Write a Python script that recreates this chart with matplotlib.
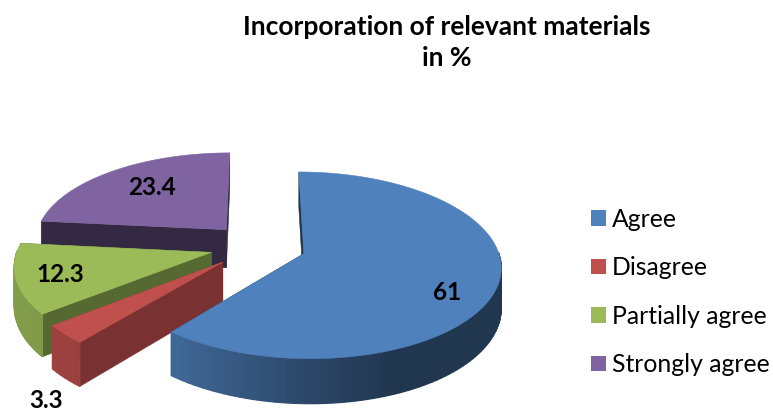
import numpy as np
import matplotlib
matplotlib.use('Agg')
import matplotlib.pyplot as plt
from matplotlib.patches import Polygon, Patch
from matplotlib.colors import to_rgb

# Dati del grafico
categories = ['Agree', 'Disagree', 'Partially agree', 'Strongly agree']
values = [61, 3.3, 12.3, 23.4]
value_labels = ['61', '3.3', '12.3', '23.4']

# Stile
colors = ['#4f81bd', '#c0504d', '#9bbb59', '#8064a2']
cut_dark = [0.40, 0.63, 0.56, 0.41]
label_pos = [(447, 293), (46, 400), (60, 275), (152, 187)]

# Parametri della vista 3D (pixel)
CX, CY = 258, 246
A, K = 193, 90
P = 0.123
EXPLODE = 0.25
DEPTH = 39
START = 0


def project(x, y, z=0):
    w = 1 - P * y
    return CX + A * x / w, CY + K * y / w + z / w


def shade(u):
    return np.interp(u, [-1, -0.6, 0, 0.4, 1], [0.85, 0.8, 0.55, 0.42, 0.42])


def darker(col, f):
    return tuple(c * f for c in to_rgb(col))


def add_poly(ax, pts, col, z, lw=0.4):
    ax.add_patch(Polygon(pts, closed=True, facecolor=col, edgecolor=col, lw=lw, zorder=z))


fig = plt.figure(figsize=(7.73, 4.12), dpi=100)
ax = fig.add_axes([0, 0, 1, 1])
ax.set_xlim(0, 773)
ax.set_ylim(412, 0)
ax.axis('off')

fractions = np.array(values) / sum(values)
edges = START + 360 * np.concatenate([[0], np.cumsum(fractions)])

# Ordine di disegno: dal fondo verso il davanti
order = [3, 2, 1, 0]
for n, i in enumerate(order):
    base = 10 * (n + 1)
    t0, t1 = np.radians(edges[i]), np.radians(edges[i + 1])
    mid = (t0 + t1) / 2
    ox, oy = EXPLODE * np.sin(mid), -EXPLODE * np.cos(mid)
    th = np.linspace(t0, t1, max(int(np.degrees(t1 - t0) / 1.5), 4))
    xs = ox + np.sin(th)
    ys = oy - np.cos(th)

    apex_top = project(ox, oy)
    apex_bot = project(ox, oy, DEPTH)
    cut = darker(colors[i], cut_dark[i])

    # facce di taglio
    for k in (-1, 0):
        add_poly(ax, [apex_top, project(xs[k], ys[k]), project(xs[k], ys[k], DEPTH), apex_bot], cut, base)

    # bordo esterno con sfumatura, solo la parte rivolta verso chi guarda
    for j in range(len(th) - 1):
        if -np.cos(th[j]) < 0 and -np.cos(th[j + 1]) < 0:
            continue
        quad = [project(xs[j], ys[j]), project(xs[j + 1], ys[j + 1]),
                project(xs[j + 1], ys[j + 1], DEPTH), project(xs[j], ys[j], DEPTH)]
        add_poly(ax, quad, darker(colors[i], shade(np.sin(th[j]))), base + 1, lw=0.9)

    # faccia superiore
    top = [apex_top] + [project(a, b) for a, b in zip(xs, ys)]
    add_poly(ax, top, colors[i], base + 2)

font = 'Lato'
for txt, (px, py) in zip(value_labels, label_pos):
    ax.text(px, py, txt, ha='center', va='center', fontsize=17.5, fontweight='bold',
            family=font, color='black', zorder=100)

ax.text(447, 27, 'Incorporation of relevant materials', ha='center', va='center',
        fontsize=19, fontweight='bold', family=font)
ax.text(447, 58, 'in %', ha='center', va='center', fontsize=19, fontweight='bold', family=font)

handles = [Patch(facecolor=c, edgecolor='none') for c in colors]
ax.legend(handles, categories, loc='center left', bbox_to_anchor=(591 / 773, 1 - 292 / 412),
          frameon=False, handlelength=0.6, handleheight=0.6, handletextpad=0.25,
          labelspacing=1.03, borderpad=0, borderaxespad=0,
          prop={'family': font, 'size': 17.8})

fig.savefig('out.png', dpi=100)
